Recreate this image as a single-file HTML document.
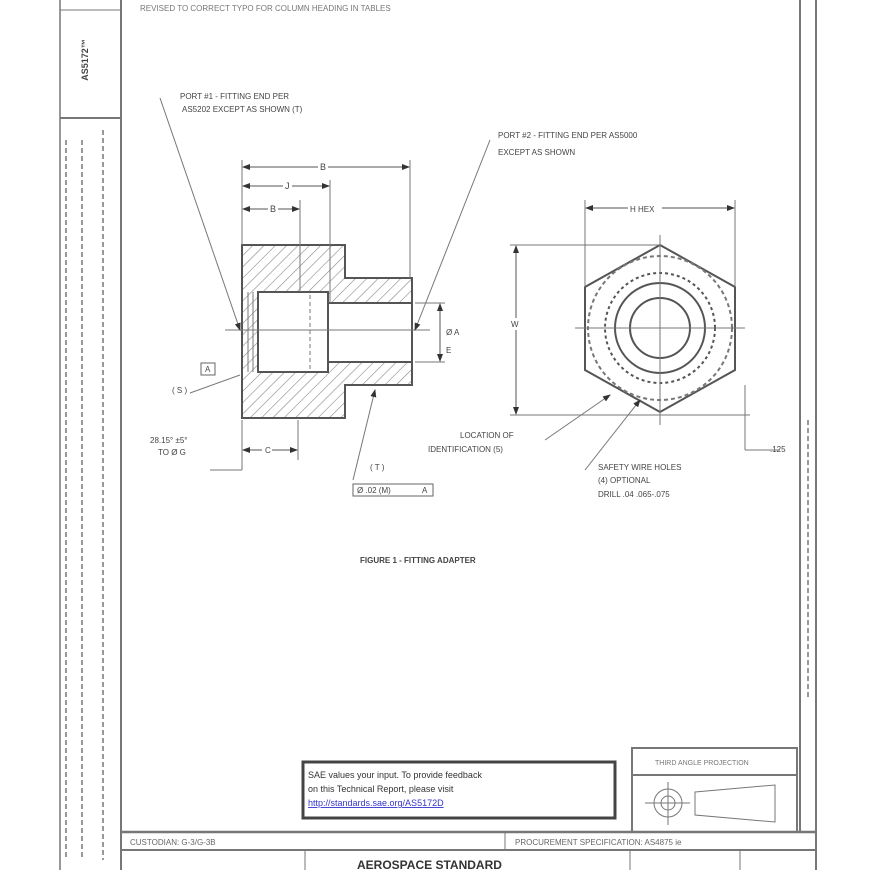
<!DOCTYPE html>
<html><head><meta charset="utf-8"><style>
html,body{margin:0;padding:0;background:#fff;}
svg{display:block;font-family:"Liberation Sans",sans-serif;}
</style></head><body>
<svg width="870" height="870" viewBox="0 0 870 870" xmlns="http://www.w3.org/2000/svg">
<defs>
<pattern id="h" width="8" height="8" patternUnits="userSpaceOnUse" patternTransform="rotate(45)">
<line x1="0" y1="0" x2="0" y2="8" stroke="#888" stroke-width="1.2"/></pattern>
<marker id="a" markerWidth="8" markerHeight="6" refX="7" refY="3" orient="auto-start-reverse"><path d="M0,0 L8,3 L0,6 Z" fill="#333"/></marker>
</defs>
<rect width="870" height="870" fill="#fff"/>
<g stroke="#777" fill="none">
<line x1="60" y1="0" x2="60" y2="870" stroke-width="1.5"/>
<line x1="121" y1="0" x2="121" y2="870" stroke-width="2"/>
<line x1="800" y1="0" x2="800" y2="832" stroke-width="2"/>
<line x1="816" y1="0" x2="816" y2="870" stroke-width="2"/>
<line x1="60" y1="10" x2="121" y2="10"/>
<line x1="60" y1="118" x2="121" y2="118" stroke-width="2"/>
<line x1="121" y1="832" x2="816" y2="832" stroke-width="2.5"/>
<line x1="121" y1="850" x2="816" y2="850" stroke-width="2"/>
<line x1="505" y1="832" x2="505" y2="850"/>
<line x1="305" y1="850" x2="305" y2="870"/>
<line x1="630" y1="850" x2="630" y2="870"/>
<line x1="740" y1="850" x2="740" y2="870"/>
</g>
<g stroke="#999" stroke-width="2" stroke-dasharray="5 3">
<line x1="66" y1="140" x2="66" y2="860"/>
<line x1="82" y1="140" x2="82" y2="860"/>
<line x1="103" y1="130" x2="103" y2="860"/>
<line x1="808" y1="420" x2="808" y2="700"/>
</g>
<text x="88" y="60" font-size="9" font-weight="bold" fill="#444" transform="rotate(-90 88 60)" text-anchor="middle">AS5172™</text>
<text x="140" y="11" font-size="8" fill="#777">REVISED TO CORRECT TYPO FOR COLUMN HEADING IN TABLES</text>

<g stroke="#555" stroke-width="2">
<path d="M242 245 H345 V278 H412 V385 H345 V418 H242 Z" fill="url(#h)"/>
<rect x="258" y="292" width="70" height="80" fill="#fff"/>
<rect x="328" y="303" width="84" height="59" fill="#fff"/>
</g>
<g stroke="#777" stroke-width="1" fill="none">
<line x1="248" y1="292" x2="248" y2="372"/><line x1="253" y1="292" x2="253" y2="372"/>
<line x1="310" y1="295" x2="310" y2="370" stroke-dasharray="4 3"/>
<line x1="225" y1="330" x2="430" y2="330"/>
<line x1="242" y1="160" x2="242" y2="245"/><line x1="410" y1="160" x2="410" y2="278"/>
<line x1="330" y1="180" x2="330" y2="303"/><line x1="300" y1="200" x2="300" y2="292"/>
<line x1="160" y1="98" x2="240" y2="330" marker-end="url(#a)"/>
<line x1="490" y1="140" x2="415" y2="330" marker-end="url(#a)"/>
<line x1="415" y1="303" x2="445" y2="303"/><line x1="415" y1="362" x2="445" y2="362"/>
<line x1="190" y1="393" x2="240" y2="375"/>
<line x1="242" y1="420" x2="242" y2="470"/><line x1="298" y1="420" x2="298" y2="460"/>
<line x1="210" y1="470" x2="242" y2="470"/>
<line x1="353" y1="480" x2="375" y2="390" marker-end="url(#a)"/>
</g>
<g stroke="#555" stroke-width="1" fill="none" marker-start="url(#a)" marker-end="url(#a)">
<line x1="243" y1="167" x2="409" y2="167"/><line x1="243" y1="186" x2="329" y2="186"/><line x1="243" y1="209" x2="299" y2="209"/>
<line x1="440" y1="304" x2="440" y2="361"/>
<line x1="243" y1="450" x2="297" y2="450"/>
<line x1="586" y1="208" x2="734" y2="208"/>
<line x1="516" y1="246" x2="516" y2="414"/>
</g>
<g font-size="8" fill="#444">
<text x="180" y="99">PORT #1 - FITTING END PER</text>
<text x="182" y="112">AS5202 EXCEPT AS SHOWN  (T)</text>
<text x="498" y="138">PORT #2 - FITTING END PER AS5000</text>
<text x="498" y="155">EXCEPT AS SHOWN</text>
<rect x="318" y="162" width="10" height="10" fill="#fff"/><text x="320" y="170" font-size="9">B</text>
<rect x="283" y="181" width="9" height="10" fill="#fff"/><text x="285" y="189" font-size="9">J</text>
<rect x="268" y="204" width="10" height="10" fill="#fff"/><text x="270" y="212" font-size="9">B</text>
<text x="446" y="335">Ø A</text><text x="446" y="353">E</text>
<rect x="201" y="363" width="14" height="12" fill="none" stroke="#666"/>
<text x="205" y="372">A</text>
<text x="172" y="393">( S )</text>
<text x="150" y="443">28.15° ±5°</text><text x="158" y="455">TO Ø G</text>
<rect x="262" y="445" width="10" height="10" fill="#fff"/><text x="265" y="453">C</text>
<text x="370" y="470">( T )</text>
<rect x="353" y="484" width="80" height="12" fill="none" stroke="#666"/>
<text x="357" y="493">Ø .02 (M)</text><text x="422" y="493">A</text>
<text x="460" y="438">LOCATION OF</text>
<text x="428" y="452">IDENTIFICATION  (5)</text>
<text x="598" y="470">SAFETY WIRE HOLES</text>
<text x="598" y="483">(4)  OPTIONAL</text>
<text x="598" y="497">DRILL .04  .065-.075</text>
<text x="360" y="563" font-weight="bold">FIGURE 1 - FITTING ADAPTER</text>
<rect x="628" y="203" width="34" height="10" fill="#fff"/><text x="630" y="212">H  HEX</text>
<rect x="510" y="318" width="12" height="12" fill="#fff"/><text x="511" y="327">W</text>
<text x="770" y="452">.125</text>
</g>

<g stroke="#555" stroke-width="2" fill="none">
<polygon points="660,245 735,287 735,370 660,412 585,370 585,287"/>
<circle cx="660" cy="328" r="72" stroke-dasharray="4 3" stroke="#777"/>
<circle cx="660" cy="328" r="55" stroke-dasharray="3 3"/>
<circle cx="660" cy="328" r="45"/>
<circle cx="660" cy="328" r="30"/>
</g>
<g stroke="#777" stroke-width="1" fill="none">
<line x1="660" y1="235" x2="660" y2="425"/><line x1="575" y1="328" x2="745" y2="328"/>
<line x1="585" y1="200" x2="585" y2="287"/><line x1="735" y1="200" x2="735" y2="287"/>
<line x1="510" y1="245" x2="660" y2="245"/><line x1="510" y1="415" x2="750" y2="415"/>
<line x1="745" y1="385" x2="745" y2="450"/><line x1="745" y1="450" x2="780" y2="450"/>
<line x1="545" y1="440" x2="610" y2="395" marker-end="url(#a)"/>
<line x1="585" y1="470" x2="640" y2="400" marker-end="url(#a)"/>
</g>

<rect x="303" y="762" width="312" height="56" fill="#fff" stroke="#444" stroke-width="3"/>
<g font-size="9" fill="#333">
<text x="308" y="778">SAE values your input. To provide feedback</text>
<text x="308" y="792">on this Technical Report, please visit</text>
<text x="308" y="806" fill="#33c" text-decoration="underline">http://standards.sae.org/AS5172D</text>
</g>
<g stroke="#777" stroke-width="2" fill="none">
<rect x="632" y="748" width="165" height="84"/>
<line x1="632" y1="775" x2="797" y2="775"/>
<circle cx="668" cy="803" r="14" stroke-width="1"/><circle cx="668" cy="803" r="7" stroke-width="1"/>
<polygon points="695,792 775,785 775,822 695,815" stroke-width="1"/>
<line x1="645" y1="803" x2="690" y2="803" stroke-width="1"/><line x1="668" y1="782" x2="668" y2="825" stroke-width="1"/>
</g>
<text x="655" y="765" font-size="7" fill="#777">THIRD ANGLE PROJECTION</text>
<g font-size="8" fill="#666">
<text x="130" y="845">CUSTODIAN: G-3/G-3B</text>
<text x="515" y="845">PROCUREMENT SPECIFICATION: AS4875 ie</text>
</g>
<text x="357" y="869" font-size="12" font-weight="bold" fill="#333">AEROSPACE STANDARD</text>
</svg>
</body></html>
